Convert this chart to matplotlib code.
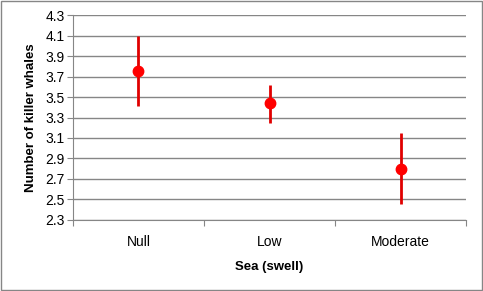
import matplotlib
matplotlib.use("Agg")
import matplotlib.pyplot as plt
from matplotlib.patches import Rectangle

plt.rcParams['font.family'] = ['Liberation Sans', 'DejaVu Sans']

categories = ['Null', 'Low', 'Moderate']
means = [3.76, 3.44, 2.80]
lower = [3.41, 3.25, 2.45]
upper = [4.10, 3.62, 3.15]
y_ticks = [2.3, 2.5, 2.7, 2.9, 3.1, 3.3, 3.5, 3.7, 3.9, 4.1, 4.3]

fig = plt.figure(figsize=(4.83, 2.91), dpi=100)
ax = fig.add_axes([0.151, 0.245, 0.814, 0.702])

x = list(range(len(categories)))
yerr = [[m - lo for m, lo in zip(means, lower)],
        [hi - m for m, hi in zip(means, upper)]]
ax.errorbar(x, means, yerr=yerr, fmt='none', ecolor='#E00000',
            elinewidth=2, capsize=0, zorder=3)
ax.plot(x, means, 'o', color='#FF0000', markersize=7.5, zorder=4)

ax.set_xlim(-0.5, 2.5)
ax.set_ylim(2.3, 4.3)
ax.set_yticks(y_ticks)
ax.set_yticklabels([f'{t:.1f}' for t in y_ticks], fontsize=10)
ax.yaxis.grid(True, color='#868686', linewidth=1)
ax.set_axisbelow(True)

# category ticks at boundaries, labels at centers
ax.set_xticks([-0.5, 0.5, 1.5, 2.5])
ax.set_xticklabels([])
ax.set_xticks(x, minor=True)
ax.set_xticklabels(categories, minor=True, fontsize=10)
ax.tick_params(axis='x', which='minor', length=0, pad=11)
ax.tick_params(axis='x', which='major', length=4, color='#868686')
ax.tick_params(axis='y', length=4, color='#868686', pad=2)

for side in ['top', 'right']:
    ax.spines[side].set_visible(False)
for side in ['left', 'bottom']:
    ax.spines[side].set_color('#868686')

ax.set_xlabel('Sea (swell)', fontsize=9.5, fontweight='bold', labelpad=9)
ax.set_ylabel('Number of killer whales', fontsize=9.5, fontweight='bold', labelpad=6)

fig.patches.append(Rectangle((0.003, 0.004), 0.994, 0.992, transform=fig.transFigure,
                             fill=False, edgecolor='#868686', linewidth=1))

fig.savefig('out.png', dpi=100)
